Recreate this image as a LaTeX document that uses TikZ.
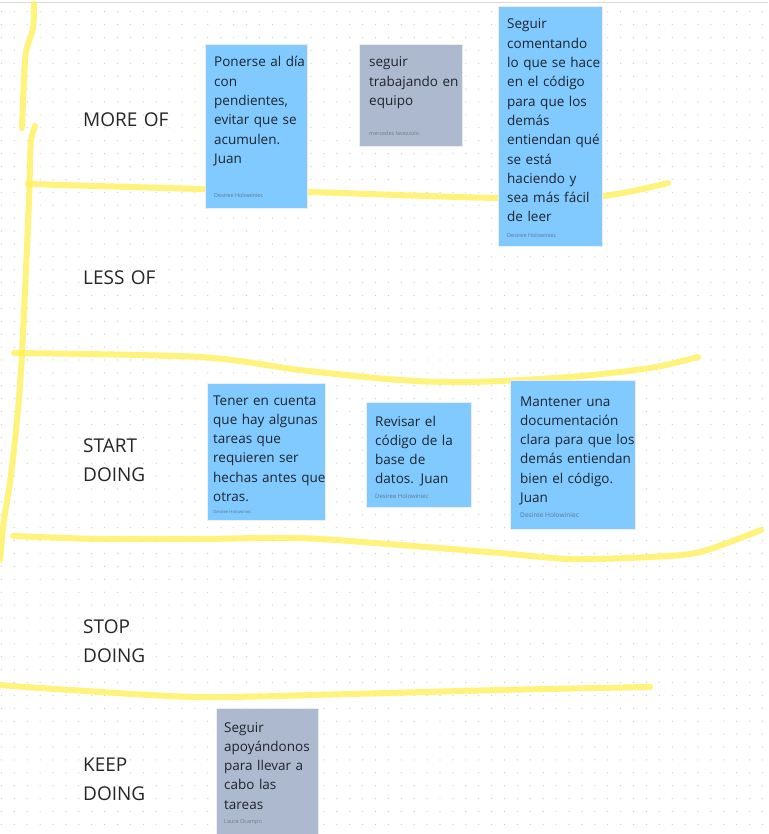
\documentclass[tikz,border=0pt]{standalone}
\usepackage{fontspec}
\setmainfont{Open Sans}

\definecolor{stickyblue}{RGB}{128,202,255}
\definecolor{stickygray}{RGB}{173,185,206}
\definecolor{markeryellow}{RGB}{255,240,90}
\definecolor{inkdark}{RGB}{31,36,46}
\definecolor{authorblue}{RGB}{95,118,150}
\definecolor{authorgray}{RGB}{118,124,136}
\definecolor{dotgray}{RGB}{200,200,200}

\begin{document}
\begin{tikzpicture}[
    x=1pt, y=-1pt,
    sticky/.style={draw=black!7, fill=#1, anchor=north west, inner sep=0},
    blue sticky/.style={sticky=stickyblue},
    gray sticky/.style={sticky=stickygray},
    note text/.style={anchor=base west, inner sep=0, text width=130pt, align=left,
        text=inkdark, font=\fontsize{13.5}{19.3}\selectfont},
    author/.style={anchor=base west, inner sep=0, text=authorblue, font=\fontsize{5.5}{6}\selectfont},
    row label/.style={anchor=base west, inner sep=0, text width=110pt, align=left,
        text=black!85, font=\fontsize{19}{29}\selectfont},
    marker/.style={draw=markeryellow, line width=6, line cap=round, line join=round, opacity=0.8}
]

\useasboundingbox[fill=white] (0,0) rectangle (768,834);

% Dot grid
\foreach \i in {0,...,59}
    \foreach \j in {0,...,64}
        \fill[dotgray] (1.4+12.9*\i, 11.7+12.9*\j) circle (0.6);
\draw[black!15, line width=1] (0,2.5) -- (768,2.5);

% Marker lines
\draw[marker] plot[smooth] coordinates {(34,4) (33,28) (26,52) (24,80) (22,128)};
\draw[marker] plot[smooth] coordinates {(35,126) (31,140) (30,165) (29,200) (26,270)
    (22,353) (18,410) (11,475) (4,520) (0,560)};
\draw[marker] plot[smooth] coordinates {(28,184) (200,189) (310,192) (498,198)
    (602,196) (668,183)};
\draw[marker] plot[smooth] coordinates {(14,353) (200,357) (300,370) (400,380)
    (470,382) (570,377) (650,368) (698,357)};
\draw[marker] plot[smooth] coordinates {(13,536) (100,539) (200,539) (300,538)
    (400,545) (500,553) (570,559) (650,557) (700,552) (761,530)};
\draw[marker] plot[smooth] coordinates {(0,685) (70,690) (200,697) (350,694)
    (500,690) (650,687)};

% Row labels
\node[row label] (lab more) at (83,127) {MORE OF};
\node[row label] (lab less) at (83,284) {LESS OF};
\node[row label] (lab start) at (83,452) {START\\DOING};
\node[row label] (lab stop) at (83,633) {STOP\\DOING};
\node[row label] (lab keep) at (83,771) {KEEP\\DOING};

% More of
\node[blue sticky, minimum width=102, minimum height=164] (more1) at (205,44) {};
\node[note text] (more1 text) at (214,67)
    {Ponerse al día\\con\\pendientes,\\evitar que se\\acumulen.\\Juan};
\node[author] (more1 author) at (214,198) {Desiree Holowiniec};

\node[gray sticky, minimum width=103, minimum height=102] (more2) at (359,44) {};
\node[note text] (more2 text) at (369,67) {seguir\\trabajando en\\equipo};
\node[author, text=authorgray] (more2 author) at (369,136) {mercedes lavezzolo};

\node[blue sticky, minimum width=104, minimum height=240] (more3) at (498,6) {};
\node[note text] (more3 text) at (507,29)
    {Seguir\\comentando\\lo que se hace\\en el código\\para que los\\demás\\entiendan qué\\se está\\haciendo y\\sea más fácil\\de leer};
\node[author] (more3 author) at (507,237) {Desiree Holowiniec};

% Start doing
\node[blue sticky, minimum width=118, minimum height=137] (start1) at (207,383) {};
\node[note text] (start1 text) at (213,405)
    {Tener en cuenta\\que hay algunas\\tareas que\\requieren ser\\hechas antes que\\otras.};
\node[author, font=\fontsize{4.3}{5}\selectfont] (start1 author) at (213,513) {Desiree Holowiniec};

\node[blue sticky, minimum width=105, minimum height=105] (start2) at (366,402) {};
\node[note text] (start2 text) at (375,426) {Revisar el\\código de la\\base de\\datos. Juan};
\node[author, font=\fontsize{6}{7}\selectfont] (start2 author) at (375,498) {Desiree Holowiniec};

\node[blue sticky, minimum width=125, minimum height=149] (start3) at (510,380) {};
\node[note text] (start3 text) at (520,406)
    {Mantener una\\documentación\\clara para que los\\demás entiendan\\bien el código.\\Juan};
\node[author, font=\fontsize{6.6}{7}\selectfont] (start3 author) at (520,517) {Desiree Holowiniec};

% Keep doing
\node[gray sticky, minimum width=102, minimum height=140] (keep1) at (216,708) {};
\node[note text] (keep1 text) at (224,732)
    {Seguir\\apoyándonos\\para llevar a\\cabo las\\tareas};
\node[author, text=authorgray] (keep1 author) at (224,823) {Laura Ocampo};

\end{tikzpicture}
\end{document}
